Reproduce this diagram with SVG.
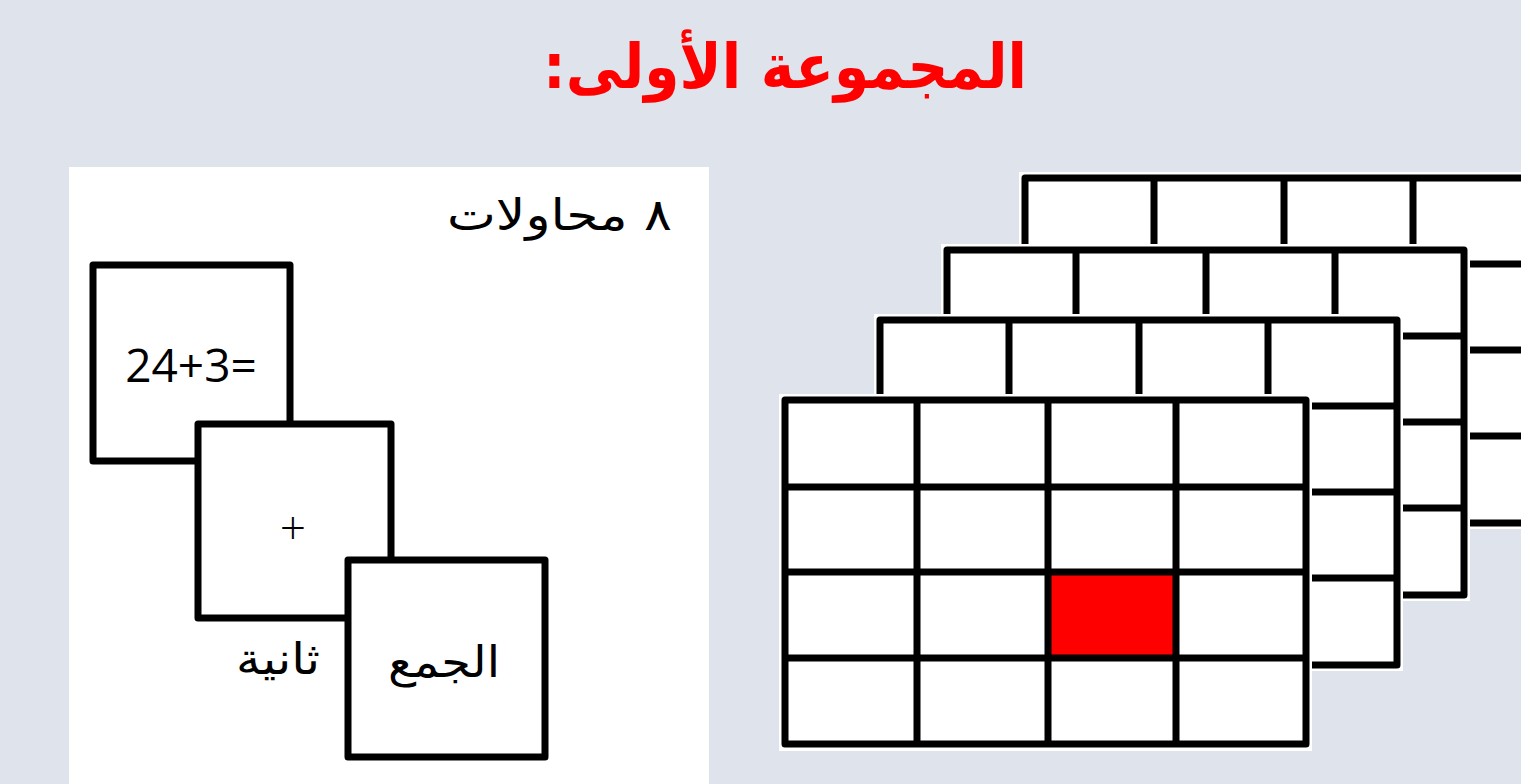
<svg xmlns="http://www.w3.org/2000/svg" xmlns:xlink="http://www.w3.org/1999/xlink" width="1521" height="784" viewBox="0 0 1521 784">
<style>
.bg{fill:#DFE3EC}
.card{fill:#fff;stroke:#000;stroke-width:7;stroke-linejoin:round}
.line{stroke:#000;stroke-width:7;fill:none;stroke-linejoin:round}
.ar{font-family:"DejaVu Sans",sans-serif;fill:#000}
.title{font-family:"DejaVu Sans",sans-serif;font-weight:bold;fill:#FF0000}
.lat{font-family:"Open Sans","Liberation Sans",sans-serif;fill:#000}
</style>
<defs>
<g id="grid">
<rect x="-6" y="-6" width="529" height="357" fill="#fff"/>
<path class="line" d="M129 0V345M259 0V345M388 0V345M0 86H517M0 172H517M0 258H517"/>
<rect x="0" y="0" width="517" height="345" class="line"/>
</g>
</defs>
<rect class="bg" x="0" y="0" width="1521" height="784"/>
<g id="title">
<text class="title" x="785" y="88" font-size="62" text-anchor="middle" direction="rtl" textLength="484" lengthAdjust="spacingAndGlyphs">المجموعة الأولى:</text>
</g>
<g id="panel">
<rect x="69" y="167" width="640" height="617" fill="#fff"/>
<text class="ar" x="672" y="230" font-size="44" direction="rtl" text-anchor="start" textLength="225" lengthAdjust="spacingAndGlyphs">٨ محاولات</text>
</g>
<g id="card-problem">
<rect class="card" x="93" y="265" width="197" height="196"/>
<text class="lat" x="191" y="382" font-size="46" text-anchor="middle">24+3=</text>
</g>
<g id="card-fixation">
<rect class="card" x="198" y="424" width="193" height="194"/>
<text class="lat" x="293" y="544" font-size="46" font-weight="300" text-anchor="middle">+</text>
</g>
<g id="label-second">
<text class="ar" x="278" y="674" font-size="44" text-anchor="middle" direction="rtl" textLength="84" lengthAdjust="spacingAndGlyphs">ثانية</text>
</g>
<g id="card-answer">
<rect class="card" x="348" y="560" width="197" height="197"/>
<text class="ar" x="444" y="677" font-size="44" text-anchor="middle" direction="rtl" textLength="112" lengthAdjust="spacingAndGlyphs">الجمع</text>
</g>
<g id="grid-4"><use xlink:href="#grid" transform="translate(1025,178)"/></g>
<g id="grid-3"><use xlink:href="#grid" transform="translate(947,250)"/></g>
<g id="grid-2"><use xlink:href="#grid" transform="translate(880,320)"/></g>
<g id="grid-1">
<rect x="779" y="394" width="533" height="357" fill="#fff"/>
<rect x="1046" y="572" width="131" height="86" fill="#FF0000"/>
<path class="line" d="M917 400V744M1048 400V744M1176 400V744M785 487H1306M785 572H1306M785 658H1306"/>
<rect x="785" y="400" width="521" height="344" class="line"/>
</g>
</svg>
